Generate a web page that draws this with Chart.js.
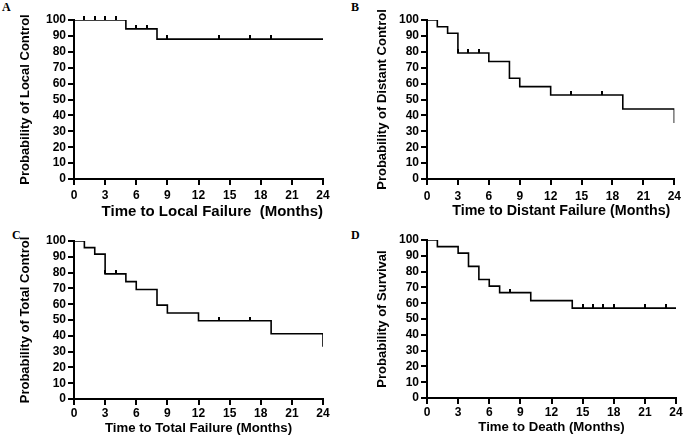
<!DOCTYPE html>
<html>
<head>
<meta charset="utf-8">
<script src="https://cdn.jsdelivr.net/npm/chart.js@4"></script>
<style>
    body { margin: 0; background: #fff; }
    #figure { position: relative; width: 685px; height: 443px; background: #fff; }
    canvas { position: absolute; }
    .panel-letter {
        position: absolute;
        font-family: 'Liberation Serif', 'DejaVu Serif', serif;
        font-weight: bold;
        font-size: 12px;
        line-height: 12px;
        color: #000;
    }
</style>
</head>
<body>
<div id="figure">
    <div class="panel-letter" style="left: 2px; top: 1px;">A</div>
    <div class="panel-letter" style="left: 351px; top: 1px;">B</div>
    <div class="panel-letter" style="left: 12px; top: 229px;">C</div>
    <div class="panel-letter" style="left: 351px; top: 229px;">D</div>
    <canvas id="chart-a" width="342" height="221" style="left: 0px; top: 0px;"></canvas>
    <canvas id="chart-b" width="332" height="220" style="left: 353px; top: 0px;"></canvas>
    <canvas id="chart-c" width="342" height="215" style="left: 0px; top: 221px;"></canvas>
    <canvas id="chart-d" width="332" height="215" style="left: 353px; top: 220px;"></canvas>
</div>
<script>
// shared axis ticks
const monthTicks = [0, 3, 6, 9, 12, 15, 18, 21, 24];
const percentTicks = [0, 10, 20, 30, 40, 50, 60, 70, 80, 90, 100];

// A - local control
const localTimes = [0, 5, 8, 24];
const localSurv = [100, 94.4, 88, 88];
const localCensorTimes = [1, 2, 3, 4, 6, 7, 9, 14, 17, 19];
const localCensorSurv = [100, 100, 100, 100, 94.4, 94.4, 88, 88, 88, 88];

// B - distant control
const distantTimes = [0, 1, 2, 3, 6, 8, 9, 12, 19, 24];
const distantSurv = [100, 95.8, 91.7, 79.2, 73.9, 63.4, 58.1, 52.8, 44, 35.2];
const distantCensorTimes = [3, 4, 5, 14, 17];
const distantCensorSurv = [79.2, 79.2, 79.2, 52.8, 52.8];

// C - total control
const totalTimes = [0, 1, 2, 3, 5, 6, 8, 9, 12, 19, 24];
const totalSurv = [100, 95.8, 91.7, 79.2, 74.3, 69.3, 59.4, 54.4, 49.5, 41.3, 33];
const totalCensorTimes = [3, 4, 14, 17];
const totalCensorSurv = [79.2, 79.2, 49.5, 49.5];

// D - overall survival
const deathTimes = [0, 1, 3, 4, 5, 6, 7, 10, 14, 24];
const deathSurv = [100, 95.8, 91.7, 83.3, 75, 70.8, 66.7, 61.6, 56.9, 56.9];
const deathCensorTimes = [8, 15, 16, 17, 18, 21, 23];
const deathCensorSurv = [66.7, 56.9, 56.9, 56.9, 56.9, 56.9, 56.9];

const FONT = "'Liberation Sans', Arial, sans-serif";

// small upward tick used as censor mark (drawn centred on the point, so only top half is inked)
function makeCensorMark() {
    const c = document.createElement('canvas');
    c.width = 2;
    c.height = 8;
    const ctx = c.getContext('2d');
    ctx.fillStyle = '#000';
    ctx.fillRect(0, 0, 2, 4);
    return c;
}
const censorMark = makeCensorMark();

function toPoints(xs, ys) {
    return xs.map((x, i) => ({ x: x, y: ys[i] }));
}

function drawPanel(canvasId, cfg) {
    const canvas = document.getElementById(canvasId);
    return new Chart(canvas, {
        type: 'line',
        data: {
            datasets: [
                {
                    data: toPoints(cfg.times, cfg.surv),
                    stepped: 'before',
                    borderColor: '#000',
                    borderWidth: 1.6,
                    pointRadius: 0,
                    fill: false
                },
                {
                    data: toPoints(cfg.censorTimes, cfg.censorSurv),
                    showLine: false,
                    pointStyle: censorMark,
                    pointRadius: 3,
                    clip: false
                }
            ]
        },
        options: {
            responsive: false,
            animation: false,
            events: [],
            layout: {
                padding: { left: 0, top: 20, right: canvas.width - 323, bottom: 0 }
            },
            plugins: {
                legend: { display: false },
                tooltip: { enabled: false }
            },
            scales: {
                x: {
                    type: 'linear',
                    min: 0,
                    max: 24,
                    afterBuildTicks: scale => { scale.ticks = monthTicks.map(v => ({ value: v })); },
                    afterFit: scale => { scale.height = canvas.height - cfg.plotBottom; },
                    grid: { drawOnChartArea: false, drawTicks: true, tickLength: 6, color: '#000', lineWidth: 2 },
                    border: { color: '#000', width: 2 },
                    ticks: { color: '#000', padding: cfg.xTickPad, autoSkip: false, maxRotation: 0, font: { family: FONT, size: 12, weight: 'bold' } },
                    title: {
                        display: true,
                        text: cfg.xTitle,
                        align: cfg.xTitleAlign,
                        color: '#000',
                        padding: { top: 0, bottom: 0 },
                        font: { family: FONT, size: cfg.xTitleSize, weight: 'bold' }
                    }
                },
                y: {
                    min: 0,
                    max: 100,
                    afterBuildTicks: scale => { scale.ticks = percentTicks.map(v => ({ value: v })); },
                    afterFit: scale => { scale.width = 74; },
                    grid: { drawOnChartArea: false, drawTicks: true, tickLength: 6, color: '#000', lineWidth: 2 },
                    border: { color: '#000', width: 2 },
                    ticks: { color: '#000', padding: 2, autoSkip: false, font: { family: FONT, size: 12, weight: 'bold' } },
                    title: {
                        display: true,
                        text: cfg.yTitle,
                        color: '#000',
                        padding: { top: cfg.yTitlePad, bottom: 0 },
                        font: { family: FONT, size: 13, weight: 'bold' }
                    }
                }
            }
        }
    });
}

drawPanel('chart-a', {
    times: localTimes, surv: localSurv,
    censorTimes: localCensorTimes, censorSurv: localCensorSurv,
    xTitle: 'Time to Local Failure  (Months)', yTitle: 'Probability of Local Control',
    plotBottom: 179, xTickPad: 3, yTitlePad: 18, xTitleSize: 15, xTitleAlign: 'end'
});
drawPanel('chart-b', {
    times: distantTimes, surv: distantSurv,
    censorTimes: distantCensorTimes, censorSurv: distantCensorSurv,
    xTitle: 'Time to Distant Failure (Months) ', yTitle: 'Probability of Distant Control',
    plotBottom: 179, xTickPad: 4, yTitlePad: 22, xTitleSize: 14.3, xTitleAlign: 'end'
});
drawPanel('chart-c', {
    times: totalTimes, surv: totalSurv,
    censorTimes: totalCensorTimes, censorSurv: totalCensorSurv,
    xTitle: 'Time to Total Failure (Months)', yTitle: 'Probability of Total Control',
    plotBottom: 178, xTickPad: 1, yTitlePad: 18, xTitleSize: 13.2, xTitleAlign: 'center'
});
drawPanel('chart-d', {
    times: deathTimes, surv: deathSurv,
    censorTimes: deathCensorTimes, censorSurv: deathCensorSurv,
    xTitle: 'Time to Death (Months)', yTitle: 'Probability of Survival',
    plotBottom: 178, xTickPad: 1, yTitlePad: 22, xTitleSize: 13.2, xTitleAlign: 'center'
});
</script>
</body>
</html>
